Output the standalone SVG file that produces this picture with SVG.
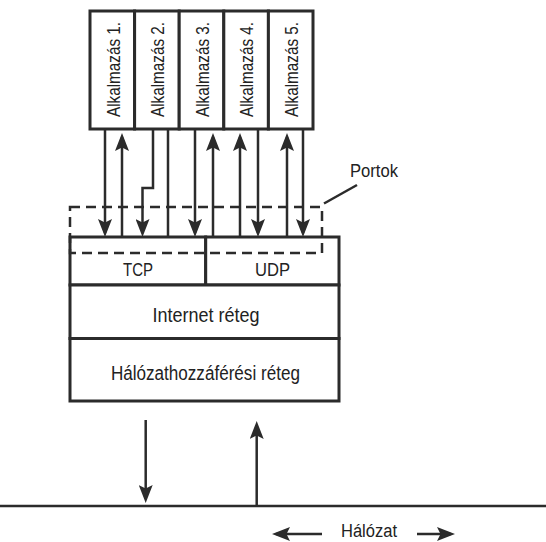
<svg xmlns="http://www.w3.org/2000/svg" width="546" height="542" viewBox="0 0 546 542">
  <style>
    .box { fill: #ffffff; stroke: #2b2b2b; stroke-width: 3; }
    .ln { fill: none; stroke: #2b2b2b; stroke-width: 2.5; }
    .dash { fill: none; stroke: #2b2b2b; stroke-width: 2.5; stroke-dasharray: 10 6; }
    .t { font-family: "Liberation Sans Narrow", "Liberation Sans", Arial, sans-serif; fill: #222222; }
    .app { font-size: 19px; }
    .lay { font-size: 20px; text-anchor: middle; }
    .sm { font-size: 18px; }
  </style>
  <defs>
    <marker id="ah" markerUnits="userSpaceOnUse" markerWidth="18" markerHeight="14" viewBox="0 0 18 14" refX="14" refY="7" orient="auto">
      <path d="M0,0 L18,7 L0,14 L3.5,7 z" fill="#2b2b2b"/>
    </marker>
  </defs>
  <rect width="546" height="542" fill="#ffffff"/>

  <!-- application boxes -->
  <g id="app1">
    <rect class="box" x="90" y="11" width="44.6" height="118"/>
    <text class="t app" transform="translate(119.5,117) rotate(-90)" textLength="95" lengthAdjust="spacingAndGlyphs">Alkalmazás 1.</text>
  </g>
  <g id="app2">
    <rect class="box" x="134.6" y="11" width="44.6" height="118"/>
    <text class="t app" transform="translate(164,117) rotate(-90)" textLength="95" lengthAdjust="spacingAndGlyphs">Alkalmazás 2.</text>
  </g>
  <g id="app3">
    <rect class="box" x="179.2" y="11" width="44.6" height="118"/>
    <text class="t app" transform="translate(208.6,117) rotate(-90)" textLength="95" lengthAdjust="spacingAndGlyphs">Alkalmazás 3.</text>
  </g>
  <g id="app4">
    <rect class="box" x="223.8" y="11" width="44.6" height="118"/>
    <text class="t app" transform="translate(253.2,117) rotate(-90)" textLength="95" lengthAdjust="spacingAndGlyphs">Alkalmazás 4.</text>
  </g>
  <g id="app5">
    <rect class="box" x="268.4" y="11" width="44.6" height="118"/>
    <text class="t app" transform="translate(297.8,117) rotate(-90)" textLength="95" lengthAdjust="spacingAndGlyphs">Alkalmazás 5.</text>
  </g>

  <!-- protocol stack -->
  <g id="tcp">
    <rect class="box" x="70" y="237" width="135.7" height="48"/>
    <text class="t sm" x="138" y="276" text-anchor="middle" textLength="30" lengthAdjust="spacingAndGlyphs">TCP</text>
  </g>
  <g id="udp">
    <rect class="box" x="205.7" y="237" width="133.3" height="48"/>
    <text class="t sm" x="272.5" y="276" text-anchor="middle" textLength="35" lengthAdjust="spacingAndGlyphs">UDP</text>
  </g>
  <g id="internet">
    <rect class="box" x="70" y="285" width="269" height="53.5"/>
    <text class="t lay" x="206" y="322" textLength="107" lengthAdjust="spacingAndGlyphs">Internet réteg</text>
  </g>
  <g id="network-access">
    <rect class="box" x="70" y="338.5" width="269" height="62.5"/>
    <text class="t lay" x="205.4" y="380" textLength="189" lengthAdjust="spacingAndGlyphs">Hálózathozzáférési réteg</text>
  </g>

  <!-- ports -->
  <g id="portok">
    <path class="dash" d="M70,207 H322 V253 H70 Z"/>
    <text class="t sm" x="350" y="177" textLength="48" lengthAdjust="spacingAndGlyphs">Portok</text>
  </g>

  <!-- network -->
  <g id="network">
    <line class="ln" x1="0" y1="506" x2="546" y2="506"/>
    <text class="t sm" x="341" y="537" textLength="56" lengthAdjust="spacingAndGlyphs">Hálózat</text>
  </g>

  <!-- connectors -->
  <g id="connectors">
    <line class="ln" x1="105" y1="129" x2="105" y2="233" marker-end="url(#ah)"/>
    <line class="ln" x1="122" y1="237" x2="122" y2="137" marker-end="url(#ah)"/>
    <polyline class="ln" points="153,129 153,188 142.5,188 142.5,233" marker-end="url(#ah)"/>
    <line class="ln" x1="168" y1="129" x2="168" y2="237"/>
    <line class="ln" x1="195" y1="129" x2="195" y2="233" marker-end="url(#ah)"/>
    <line class="ln" x1="213" y1="237" x2="213" y2="137" marker-end="url(#ah)"/>
    <line class="ln" x1="240" y1="237" x2="240" y2="137" marker-end="url(#ah)"/>
    <line class="ln" x1="258" y1="129" x2="258" y2="233" marker-end="url(#ah)"/>
    <line class="ln" x1="287" y1="237" x2="287" y2="137" marker-end="url(#ah)"/>
    <line class="ln" x1="303" y1="129" x2="303" y2="233" marker-end="url(#ah)"/>
    <line class="ln" x1="324" y1="203.5" x2="357" y2="185"/>
    <line class="ln" x1="145.7" y1="420" x2="145.7" y2="499" marker-end="url(#ah)"/>
    <line class="ln" x1="256.7" y1="505" x2="256.7" y2="425" marker-end="url(#ah)"/>
    <line class="ln" x1="322" y1="534" x2="276" y2="534" marker-end="url(#ah)"/>
    <line class="ln" x1="417" y1="534" x2="451" y2="534" marker-end="url(#ah)"/>
  </g>
</svg>
